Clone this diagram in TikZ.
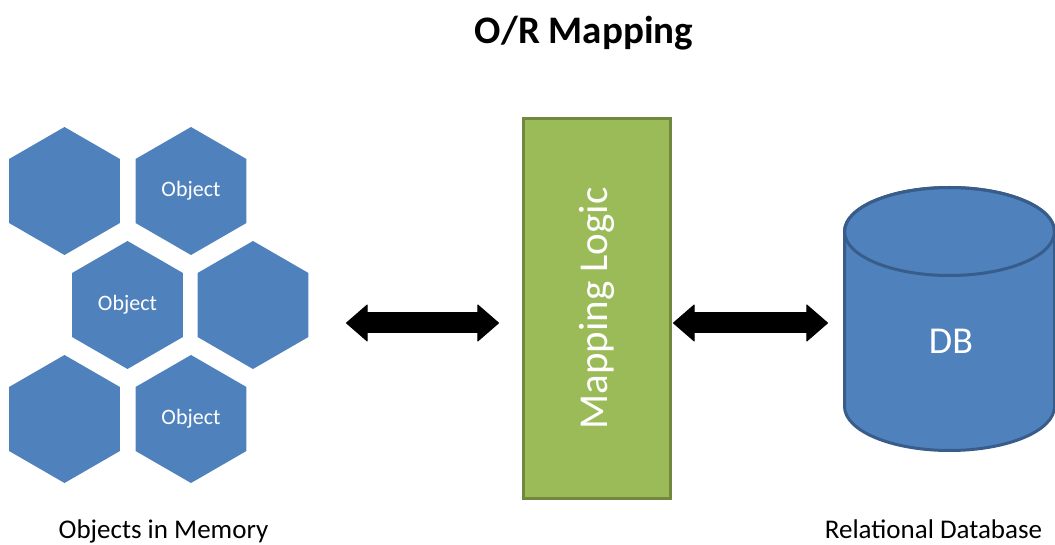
\documentclass[tikz,border=0pt]{standalone}
\usepackage{fontspec}
\setmainfont{Carlito}
\usepackage{xcolor}
\usepackage{tikz}
\usetikzlibrary{positioning,shapes,arrows.meta}
\definecolor{objblue}{HTML}{4F81BD}
\definecolor{dbline}{HTML}{385D8A}
\definecolor{logicgreen}{HTML}{9BBB59}
\definecolor{logicline}{HTML}{71893F}
\tikzset{
  every overlay node/.style={}
}

\begin{document}
\begin{tikzpicture}[x=1pt,y=1pt,
									hexa/.style = {regular polygon, regular polygon sides=6, shape border rotate=30, fill=objblue, minimum size=128pt, inner sep=0pt, text=white, font=\fontsize{22}{24}\selectfont},
									dblarrow/.style = {{Triangle[length=22pt,width=38pt,line width=1pt,round]}-{Triangle[length=22pt,width=38pt,line width=1pt,round]}, line width=21pt, black},
									caption/.style = {anchor=base, font=\fontsize{27}{30}\selectfont}]
					\useasboundingbox (0,0) rectangle (1055,544);
					\node[anchor=base, font=\bfseries\fontsize{39}{42}\selectfont] (title) at (584, 500) {O/R Mapping};
					
					\node[hexa] (o1) at (64.5, 353) {};
					\node[hexa] (o2) at (191, 353) {Object};
					\node[hexa] (o3) at (127.5, 239) {Object};
					\node[hexa] (o4) at (253, 239) {};
					\node[hexa] (o5) at (64.5, 125) {};
					\node[hexa] (o6) at (191, 125) {Object};
					
					\node[draw=logicline, line width=3pt, fill=logicgreen, minimum width=147pt, minimum height=380pt] (logic) at (597, 235.5) {};
					\node[rotate=90, text=white, font=\fontsize{41}{44}\selectfont] (logictext) at (logic.center) {Mapping Logic};
					
					\filldraw[fill=objblue, draw=dbline, line width=3pt] (844.5, 312.5) -- (844.5, 137.5) arc[start angle=180, end angle=360, x radius=105, y radius=44] -- (1054.5, 312.5) arc[start angle=0, end angle=180, x radius=105, y radius=44] -- cycle;
					\draw[dbline, line width=3pt] (949.5, 312.5) ellipse[x radius=105, y radius=44];
					\node[text=white, font=\fontsize{38}{40}\selectfont] (db) at (951, 203) {DB};
					
					\coordinate (a1) at (346, 221);
					\coordinate (a2) at (499, 221);
					\coordinate (a3) at (673, 221);
					\coordinate (a4) at (828, 221);
					\draw[dblarrow] (a1) to (a2);
					\draw[dblarrow] (a3) to (a4);
					
					\node[caption] (objlabel) at (163.5, 6) {Objects in Memory};
					\node[caption] (dblabel) at (933.5, 6) {Relational Database};
				\end{tikzpicture}
\end{document}
